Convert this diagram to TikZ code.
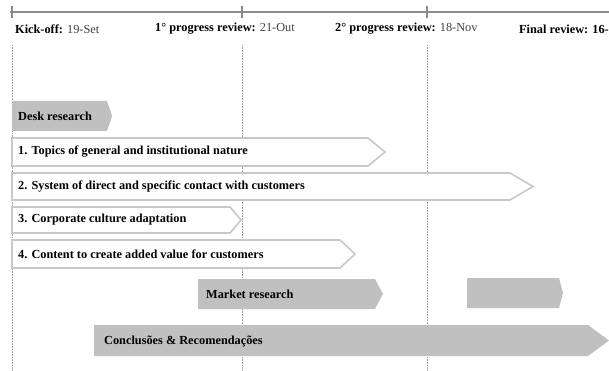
\documentclass[tikz,border=0pt]{standalone}
\usepackage{fontspec}
\setmainfont{Liberation Serif}
\definecolor{axisgray}{HTML}{8A8A8A}
\definecolor{barfill}{HTML}{C0C0C0}
\definecolor{barline}{HTML}{C8C8C8}
\definecolor{guide}{HTML}{9A9A9A}
\definecolor{datecol}{HTML}{404040}
\tikzset{
  x=1pt, y=-1pt,
  milestone/.style={anchor=west, font=\fontsize{12.3}{13}\selectfont, inner sep=0pt},
  barlabel/.style={anchor=west, font=\bfseries\fontsize{12.3}{13}\selectfont, inner sep=0pt, text=black},
  guideline/.style={guide, line width=0.6pt, dash pattern=on 1pt off 0.6pt},
  graybar/.style={fill=barfill, draw=none},
  whitebar/.style={fill=white, draw=barline, line width=1.6pt, line join=miter},
}
% chevron: left, top, right tip, bottom, tip depth
\newcommand{\chev}[6][]{%
  \draw[#1] (#2,#3) -- ({#4-#6},#3) -- (#4,{(#3+#5)/2}) -- ({#4-#6},#5) -- (#2,#5) -- cycle;}
\begin{document}
\begin{tikzpicture}
\useasboundingbox (0,0) rectangle (609,371);
% guide lines for the milestones
\foreach \gx/\gn in {12/ga,242/gb,427/gc} {
  \coordinate (\gn t) at (\gx,45);
  \coordinate (\gn b) at (\gx,371);
  \draw[guideline] (\gn t) -- (\gn b);
}
% time axis
\coordinate (axl) at (10,12);
\coordinate (axr) at (612,12);
\draw[axisgray, line width=2pt] (axl) -- (axr);
\foreach \tx in {12,242,427} \draw[axisgray, line width=2pt] (\tx,6) -- (\tx,18);
% milestone labels
\node[milestone] (m1) at (15,29) {\textbf{Kick-off:} \textcolor{datecol}{19-Set}};
\node[milestone] (m2) at (155,29) {\textbf{1° progress review:} \textcolor{datecol}{21-Out}};
\node[milestone] (m3) at (335,29) {\textbf{2° progress review:} \textcolor{datecol}{18-Nov}};
\node[milestone] (m4) at (519,29) {\textbf{Final review: 16-}};
% bars
\chev[graybar]{12}{101}{112}{131}{5}
\chev[whitebar]{12}{138}{385}{166}{17}
\chev[whitebar]{12}{173}{533}{200}{23}
\chev[whitebar]{12}{207}{241}{233}{11}
\chev[whitebar]{12}{240}{355}{268}{15}
\chev[graybar]{198}{279}{383}{309}{8}
\chev[graybar]{467}{278}{563}{308}{4}
\chev[graybar]{94}{325}{609}{356}{21}
% bar labels
\node[barlabel] (b0) at (18,116) {Desk research};
\node[barlabel] (b1) at (18,152) {1. Topics of general and institutional nature};
\node[barlabel] (b2) at (18,186.5) {2. System of direct and specific contact with customers};
\node[barlabel] (b3) at (18,220) {3. Corporate culture adaptation};
\node[barlabel] (b4) at (18,254) {4. Content to create added value for customers};
\node[barlabel] (b5) at (206,294) {Market research};
\node[barlabel] (b6) at (104,341) {Conclusões \& Recomendações};
\end{tikzpicture}
\end{document}
